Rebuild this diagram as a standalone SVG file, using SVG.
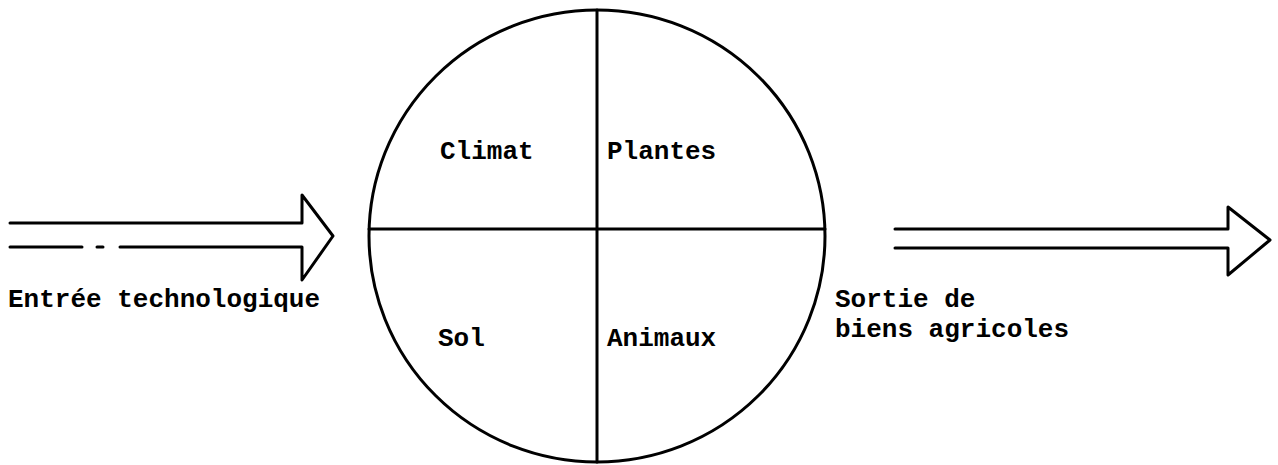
<svg xmlns="http://www.w3.org/2000/svg" width="1278" height="465" viewBox="0 0 1278 465">
<style>
.ln{fill:none;stroke:#000;stroke-width:3;stroke-linecap:round;stroke-linejoin:round}
.t{font-family:"Liberation Mono","Courier New",monospace;font-size:26px;font-weight:bold;fill:#000}
</style>
<rect width="1278" height="465" fill="#fff"/>
<g id="system">
<ellipse class="ln" cx="597" cy="236" rx="228" ry="226"/>
<line class="ln" x1="369" y1="229" x2="825" y2="229"/>
<line class="ln" x1="597" y1="10" x2="597" y2="462"/>
</g>
<g id="climat"><text class="t" x="440" y="159">Climat</text></g>
<g id="plantes"><text class="t" x="607" y="159">Plantes</text></g>
<g id="sol"><text class="t" x="438" y="346">Sol</text></g>
<g id="animaux"><text class="t" x="607" y="346">Animaux</text></g>
<g id="connectors">
<path class="ln" d="M10,223 H302 V195 L333,236 L302,280 V247 H120 M103,247 H97 M82,247 H10"/>
<path class="ln" d="M895,229 H1228 V207 L1270,240 L1228,275 V248 H895"/>
</g>
<g id="entree"><text class="t" x="8" y="307">Entrée technologique</text></g>
<g id="sortie"><text class="t" x="835" y="307">Sortie de</text><text class="t" x="835" y="337">biens agricoles</text></g>
</svg>
